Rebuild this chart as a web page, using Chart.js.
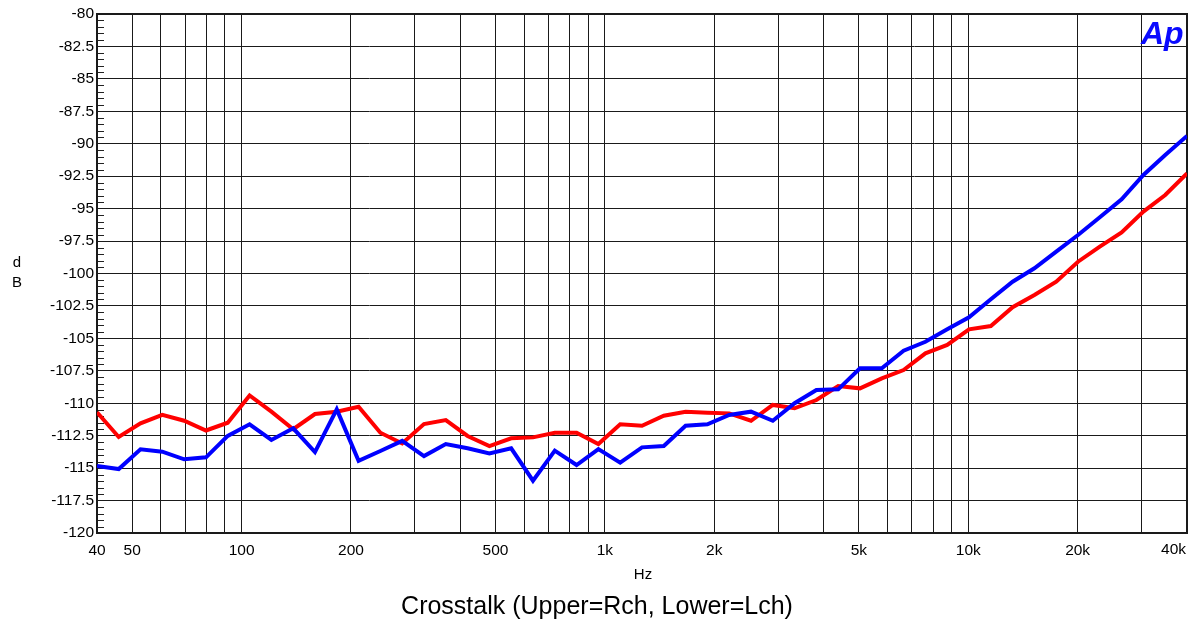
<!DOCTYPE html>
<html>
<head>
<meta charset="utf-8">
<script src="https://cdn.jsdelivr.net/npm/chart.js@4/dist/chart.umd.min.js"></script>
<style>
  html, body { margin: 0; padding: 0; background: #fff; }
  #wrap { width: 1195px; height: 623px; position: relative; }
</style>
</head>
<body>
<div id="wrap"><canvas id="xtalk"></canvas></div>
<script>
// measurement points (Hz), 1/5-octave steps from 40 Hz to 40 kHz
const freqs = [
  40, 45.9, 52.7, 60.5, 69.5, 79.8, 91.6, 105.2, 120.8, 138.7,
  159.2, 182.8, 209.9, 241, 276.7, 317.7, 364.8, 418.8, 480.9, 552.1,
  633.9, 727.8, 835.6, 959.4, 1101.6, 1264.9, 1452.3, 1667.4, 1914.5, 2198.1,
  2523.8, 2897.7, 3327, 3819.9, 4385.9, 5035.8, 5781.9, 6638.5, 7622.1, 8751.4,
  10048, 11537, 13246, 15209, 17462, 20049, 23020, 26431, 30347, 34844, 40000
];

// crosstalk, dB
const rch = [
  -114.84, -115.07, -113.55, -113.73, -114.32, -114.17, -112.52, -111.62, -112.83, -111.93,
  -113.76, -110.47, -114.43, -113.68, -112.9, -114.07, -113.14, -113.47, -113.86, -113.47,
  -115.97, -113.65, -114.76, -113.53, -114.58, -113.4, -113.3, -111.73, -111.62, -110.9,
  -110.65, -111.35, -110.0, -108.98, -108.93, -107.3, -107.3, -105.95, -105.26, -104.3,
  -103.38, -101.99, -100.63, -99.6, -98.32, -97.03, -95.67, -94.28, -92.41, -90.87, -89.4
];
const lch = [
  -110.7, -112.6, -111.55, -110.9, -111.35, -112.1, -111.5, -109.4, -110.65, -112.0,
  -110.83, -110.65, -110.27, -112.27, -113.1, -111.6, -111.3, -112.52, -113.3, -112.7,
  -112.63, -112.27, -112.27, -113.14, -111.62, -111.73, -110.96, -110.65, -110.73, -110.78,
  -111.35, -110.13, -110.39, -109.75, -108.67, -108.85, -108.08, -107.44, -106.15, -105.51,
  -104.3, -104.05, -102.6, -101.66, -100.63, -99.09, -97.93, -96.83, -95.23, -93.95, -92.28
];

// vertical grid lines and which of them carry a label
const gridFreqs = [
  40, 50, 60, 70, 80, 90,
  100, 200, 300, 400, 500, 600, 700, 800, 900,
  1000, 2000, 3000, 4000, 5000, 6000, 7000, 8000, 9000,
  10000, 20000, 30000, 40000
];
const freqLabels = { 40: '40', 50: '50', 100: '100', 200: '200', 500: '500', 1000: '1k', 2000: '2k', 5000: '5k', 10000: '10k', 20000: '20k' };

const FONT = "'Liberation Sans', Arial, sans-serif";
const TICK_SIZE = 15.5;

const extras = {
  id: 'apExtras',
  beforeDatasetsDraw(chart) {
    const { ctx, chartArea: a, scales } = chart;
    ctx.save();
    // short 0.5 dB ticks along the left edge
    ctx.strokeStyle = '#222';
    ctx.lineWidth = 1;
    for (let v = -120; v <= -80; v += 0.5) {
      if (Math.abs(v / 2.5 - Math.round(v / 2.5)) < 1e-6) continue;
      const y = Math.round(scales.y.getPixelForValue(v)) + 0.5;
      ctx.beginPath();
      ctx.moveTo(a.left, y);
      ctx.lineTo(a.left + 7, y);
      ctx.stroke();
    }
    // frame
    ctx.strokeStyle = '#1a1a1a';
    ctx.lineWidth = 2;
    ctx.strokeRect(a.left, a.top, a.right - a.left, a.bottom - a.top);
    ctx.restore();
  },
  afterDraw(chart) {
    const { ctx, chartArea: a } = chart;
    ctx.save();
    ctx.fillStyle = '#000';
    ctx.font = TICK_SIZE + 'px ' + FONT;
    ctx.textBaseline = 'middle';
    ctx.textAlign = 'right';
    ctx.fillText('40k', a.right - 1, 550);
    ctx.textAlign = 'center';
    ctx.font = '15px ' + FONT;
    ctx.fillText('Hz', 643, 575);
    ctx.fillText('d', 17, 263);
    ctx.fillText('B', 17, 283);
    ctx.font = '25px ' + FONT;
    ctx.fillText('Crosstalk (Upper=Rch, Lower=Lch)', 597, 607);
    // Ap logo
    ctx.fillStyle = '#0a0aff';
    ctx.font = 'italic bold 32px ' + FONT;
    ctx.textAlign = 'left';
    ctx.textBaseline = 'alphabetic';
    ctx.fillText('Ap', 1141, 44);
    ctx.restore();
  }
};

const toPts = ys => ys.map((y, i) => ({ x: freqs[i], y }));

new Chart(document.getElementById('xtalk'), {
  type: 'line',
  data: {
    datasets: [
      { label: 'Rch', data: toPts(rch), borderColor: '#0000ff', borderWidth: 4, pointRadius: 0, tension: 0, order: 0 },
      { label: 'Lch', data: toPts(lch), borderColor: '#ff0000', borderWidth: 4, pointRadius: 0, tension: 0, order: 1 }
    ]
  },
  options: {
    responsive: true,
    maintainAspectRatio: false,
    animation: false,
    layout: { padding: { top: 14, right: 6, left: 0, bottom: 0 } },
    plugins: { legend: { display: false }, tooltip: { enabled: false } },
    scales: {
      x: {
        type: 'logarithmic',
        min: 40,
        max: 40000,
        afterBuildTicks: s => { s.ticks = gridFreqs.map(v => ({ value: v })); },
        afterFit: s => { s.height = 90; },
        border: { display: false },
        grid: { color: '#1a1a1a', lineWidth: 1, drawTicks: false },
        ticks: {
          autoSkip: false,
          maxRotation: 0,
          padding: 8,
          color: '#000',
          font: { family: FONT, size: TICK_SIZE },
          callback: v => freqLabels[v] || ''
        }
      },
      y: {
        min: -120,
        max: -80,
        afterFit: s => { s.width = 97; },
        border: { display: false },
        grid: { color: '#1a1a1a', lineWidth: 1, drawTicks: false },
        ticks: {
          stepSize: 2.5,
          padding: 3,
          color: '#000',
          font: { family: FONT, size: TICK_SIZE },
          callback: v => String(v)
        }
      }
    }
  },
  plugins: [extras]
});
</script>
</body>
</html>
